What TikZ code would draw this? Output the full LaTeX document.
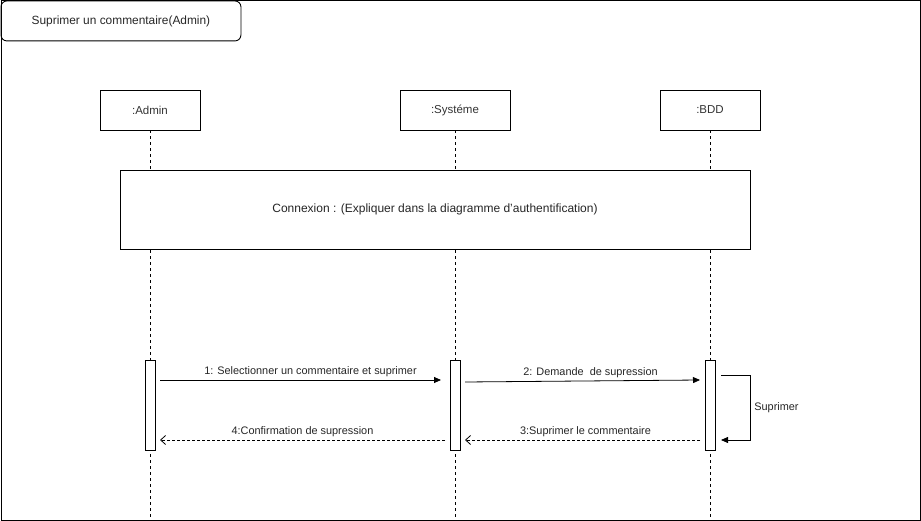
\documentclass[tikz,border=0pt]{standalone}
\usepackage{fontspec}
\setmainfont{Liberation Sans}
\usetikzlibrary{arrows.meta}
\begin{document}
\begin{tikzpicture}[x=1pt,y=-1pt,
  every node/.style={inner sep=0pt},
  lbl/.style={font=\fontsize{10.9}{12}\selectfont, text=black!85},
  objbox/.style={draw, line width=0.8pt, minimum height=40pt, font=\fontsize{11.5}{13}\selectfont, text=black!80},
  lifeline/.style={dashed, dash pattern=on 3pt off 3pt, line width=0.8pt},
  actbox/.style={draw, fill=white, line width=0.8pt, minimum width=10pt, minimum height=90pt},
  syncmsg/.style={line width=0.8pt, -{Triangle[length=7pt,width=6pt]}},
  retmsg/.style={line width=0.8pt, dashed, dash pattern=on 3pt off 2pt, -{Straight Barb[length=5pt,width=9pt]}}
]
\useasboundingbox (0,0) rectangle (921,521);
% frame
\node[draw, line width=0.9pt, minimum width=919pt, minimum height=519pt, anchor=north west] (frame) at (0.5,0.5) {};
\node[draw, line width=0.9pt, rounded corners=6pt, minimum width=240pt, minimum height=40pt, anchor=north west, font=\fontsize{11.9}{13}\selectfont, text=black!85] (title) at (0.5,0.5) {Suprimer un commentaire(Admin)};
% objects
\node[objbox, minimum width=100pt] (admin) at (150,110) {:Admin};
\node[objbox, minimum width=110pt] (sys) at (455,110) {:Systéme};
\node[objbox, minimum width=100pt] (bdd) at (710,110) {:BDD};
\coordinate (adminEnd) at (150,520);
\coordinate (sysEnd) at (455,520);
\coordinate (bddEnd) at (710,520);
\draw[lifeline] (admin.south) -- (adminEnd);
\draw[lifeline] (sys.south) -- (sysEnd);
\draw[lifeline] (bdd.south) -- (bddEnd);
% connexion box
\node[draw, fill=white, line width=0.8pt, minimum width=630pt, minimum height=79pt, font=\fontsize{12}{14}\selectfont, text=black!85] (cnx) at (435,209.5) {Connexion : (Expliquer dans la diagramme d'authentification)};
% activations
\node[actbox] (aA) at (150,405) {};
\node[actbox] (aS) at (455,405) {};
\node[actbox] (aB) at (710,405) {};
% messages
\coordinate (m1s) at (160,380);
\coordinate (m1e) at (441,380);
\draw[syncmsg] (m1s) -- node[lbl, above=3pt, xshift=10pt] {1: Selectionner un commentaire et suprimer} (m1e);
\coordinate (m2s) at (465,382);
\coordinate (m2e) at (700,380);
\draw[syncmsg] (m2s) -- node[lbl, above=3pt, xshift=8pt] {2: Demande\ \ de supression} (m2e);
\coordinate (s1) at (721,375);
\coordinate (s2) at (750,375);
\coordinate (s3) at (750,440);
\coordinate (s4) at (721,440);
\draw[syncmsg] (s1) -- (s2) -- node[lbl, right=4pt] {Suprimer} (s3) -- (s4);
\coordinate (m3s) at (700,440);
\coordinate (m3e) at (465,440);
\draw[retmsg] (m3s) -- node[lbl, above=3pt, xshift=3pt] {3:Suprimer le commentaire} (m3e);
\coordinate (m4s) at (445,440);
\coordinate (m4e) at (160,440);
\draw[retmsg] (m4s) -- node[lbl, above=3pt] {4:Confirmation de supression} (m4e);
\end{tikzpicture}
\end{document}
